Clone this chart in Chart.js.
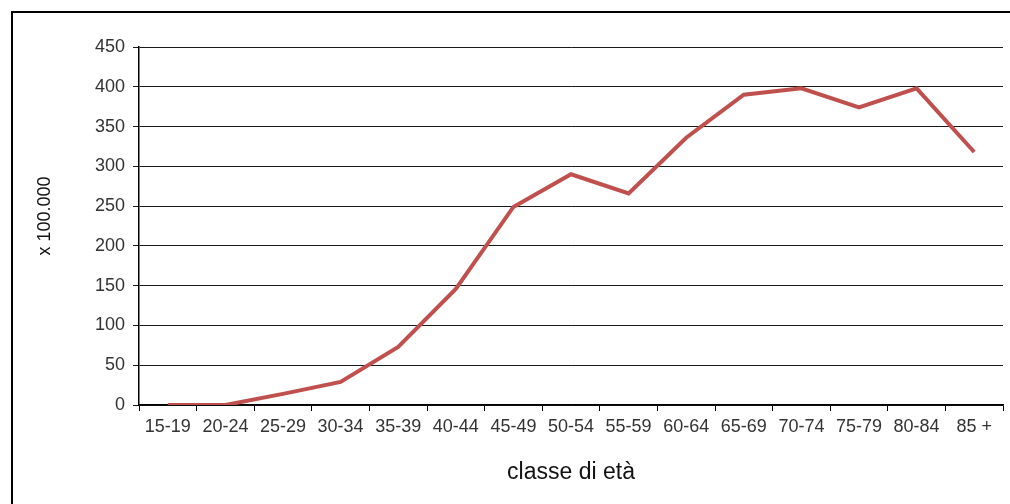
<!DOCTYPE html>
<html>
<head>
<meta charset="utf-8">
<script src="https://cdn.jsdelivr.net/npm/chart.js@4.4.0/dist/chart.umd.min.js"></script>
<style>
  html, body { margin: 0; padding: 0; background: #fff; overflow: hidden; }
  #wrap { position: relative; width: 1010px; height: 504px; }
  #frame { position: absolute; left: 11px; top: 11px; width: 1010px; height: 510px; border-left: 2px solid #000; border-top: 2px solid #000; box-sizing: border-box; }
  canvas { position: absolute; left: 0; top: 0; }
</style>
</head>
<body>
<div id="wrap">
  <div id="frame"></div>
  <canvas id="chart" width="1010" height="504"></canvas>
</div>
<script>
var classi = ['15-19', '20-24', '25-29', '30-34', '35-39', '40-44', '45-49', '50-54', '55-59', '60-64', '65-69', '70-74', '75-79', '80-84', '85 +'];
var tassi = [0, 0, 14, 29, 73, 146, 249, 290, 266, 336, 390, 398, 374, 398, 318];

var testo = '#333333';
var ctx = document.getElementById('chart');

var myChart = new Chart(ctx, {
    type: 'line',
    data: {
        labels: classi,
        datasets: [
            {
                label: 'x 100.000',
                data: tassi,
                borderColor: '#C0504D',
                borderWidth: 4,
                pointRadius: 0,
                fill: false,
                tension: 0
            }
        ]
    },
    options: {
        responsive: false,
        animation: false,
        layout: { padding: { left: 0, right: 7, top: 47, bottom: 0 } },
        plugins: { legend: { display: false }, tooltip: { enabled: false } },
        scales: {
            x: {
                offset: true,
                grid: { offset: true, drawOnChartArea: false, tickLength: 6, color: '#000' },
                border: { color: '#000', width: 1.5 },
                ticks: { color: testo, font: { family: 'Liberation Sans', size: 18 }, padding: 5, maxRotation: 0, autoSkip: false },
                title: { display: true, text: 'classe di età', color: '#111', font: { family: 'Liberation Sans', size: 23 }, padding: { top: 4, bottom: 18 } },
                afterFit: function (s) { s.height = 99; }
            },
            y: {
                min: 0,
                max: 450,
                ticks: { stepSize: 50, color: testo, font: { family: 'Liberation Sans', size: 18 }, padding: 8 },
                grid: { color: '#1a1a1a', tickLength: 6, lineWidth: 1 },
                border: { color: '#000', width: 1.5 },
                // spazi iniziali: il titolo nel riferimento sta un po' più in alto
                title: { display: true, text: '    x 100.000', color: '#111', font: { family: 'Liberation Sans', size: 18 }, padding: { top: 34, bottom: 4 } },
                afterFit: function (s) { s.width = 139; }
            }
        }
    }
});
</script>
</body>
</html>
